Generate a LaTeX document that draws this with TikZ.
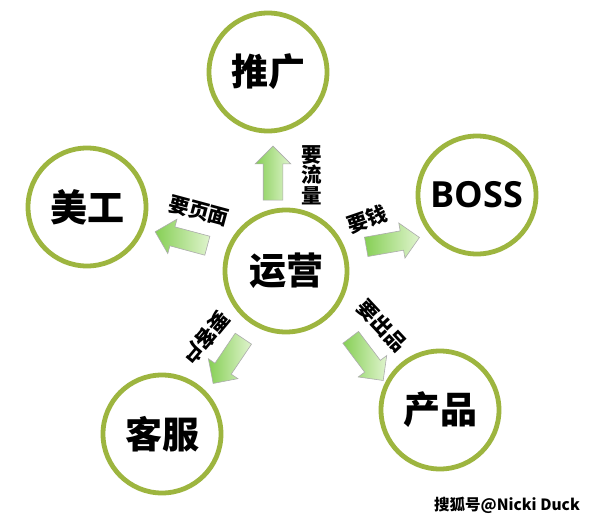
\documentclass[tikz,border=0pt]{standalone}
\usepackage{fontspec}
\newfontfamily\cjk{Noto Sans CJK SC}
\newfontfamily\latinb{Open Sans}
\usetikzlibrary{shapes.arrows}
\definecolor{ringgreen}{HTML}{9DB53F}
\definecolor{arrdark}{HTML}{86CF55}
\definecolor{arrlight}{HTML}{E0F4CE}
\tikzset{
  ring/.style={circle, draw=ringgreen, line width=4.8pt, fill=white, minimum size=118pt, inner sep=0pt, font=\cjk\bfseries\fontsize{37}{37}\selectfont},
  blockarrow/.style={single arrow, draw=gray!65, line width=0.6pt, inner sep=9.5pt, single arrow head extend=8pt, minimum height=54pt, left color=arrdark, right color=arrlight},
  lbl/.style={font=\cjk\bfseries\fontsize{20.5}{20.5}\selectfont, inner sep=0pt, align=center},
  wm/.style={font=\cjk\bfseries\fontsize{15.5}{15.5}\selectfont, inner sep=0pt}
}
\begin{document}
\begin{tikzpicture}[x=1pt,y=-1pt]
\useasboundingbox (0,0) rectangle (592,522);
\fill[white] (0,0) rectangle (592,522);
% circles
\node[ring] (tg) at (268,72) {推广};
\node[ring] (mg) at (87,207) {美工};
\node[ring, font=\latinb\bfseries\fontsize{36}{36}\selectfont] (boss) at (477,195) {BOSS};
\node[ring, minimum size=122pt] (yy) at (286,271) {运营};
\node[ring] (kf) at (162,434) {客服};
\node[ring] (cp) at (440,410) {产品};
% block arrows
\node[blockarrow, rotate=90] (a1) at (273,178) {};
\node[blockarrow, rotate=165] (a2) at (186,240) {};
\node[blockarrow, rotate=10] (a3) at (388,243) {};
\node[blockarrow, rotate=236] (a4) at (231,357) {};
\node[blockarrow, rotate=-53] (a5) at (364,355) {};
% labels
\node[lbl] (l1) at (312,175) {要\\流\\量};
\node[lbl, rotate=-15] (l2) at (199,211) {要页面};
\node[lbl, rotate=19] (l3) at (367,219) {要钱};
\node[lbl, rotate=230] (l4) at (206,338) {要客户};
\node[lbl, rotate=-47] (l5) at (382,326) {要出品};
% watermark
\node[wm] (w) at (507,505) {搜狐号@Nicki Duck};
\end{tikzpicture}
\end{document}
